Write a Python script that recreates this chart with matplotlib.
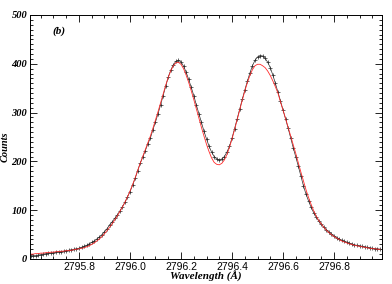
import numpy as np
import matplotlib
matplotlib.use("Agg")
import matplotlib.pyplot as plt
from matplotlib.ticker import MultipleLocator

# Observed profile (counts), sampled every 0.01 A starting at 2795.61 A
wl_start = 2795.61
wl_step = 0.01
observed = [
    6, 7, 7, 8, 9, 10, 11, 12, 12, 13,
    14, 15, 15, 16, 17, 18, 19, 20, 21, 22,
    24, 26, 28, 31, 34, 37, 41, 45, 50, 56,
    62, 70, 76, 83, 90, 98, 107, 116, 127, 138,
    151, 165, 181, 196, 209, 222, 236, 248, 265, 281,
    298, 316, 335, 354, 373, 387, 398, 405, 407, 404,
    395, 383, 368, 352, 335, 316, 298, 280, 262, 246,
    231, 219, 210, 205, 203, 205, 210, 219, 231, 248,
    267, 287, 307, 327, 346, 364, 381, 396, 407, 414,
    417, 416, 411, 403, 392, 377, 360, 342, 324, 305,
    287, 268, 248, 228, 209, 190, 170, 150, 133, 119,
    106, 95, 86, 78, 71, 65, 60, 55, 51, 47,
    44, 41, 38, 36, 34, 32, 31, 29, 28, 27,
    26, 25, 24, 23, 22, 21, 21, 20,
]
# Fitted profile (red)
fitted = [
    10, 10, 11, 11, 12, 12, 13, 13, 14, 14,
    15, 15, 16, 16, 17, 17, 18, 19, 20, 21,
    22, 23, 25, 27, 30, 33, 37, 41, 46, 52,
    58, 65, 72, 80, 88, 97, 106, 116, 127, 139,
    152, 166, 181, 196, 210, 224, 238, 252, 268, 285,
    302, 320, 338, 356, 372, 386, 396, 402, 403, 399,
    390, 377, 362, 345, 327, 308, 289, 270, 252, 235,
    220, 207, 198, 194, 193, 196, 203, 214, 229, 246,
    265, 285, 305, 325, 344, 361, 376, 388, 396, 399,
    399, 396, 392, 385, 376, 365, 353, 340, 322, 305,
    288, 270, 252, 234, 216, 197, 178, 160, 142, 126,
    112, 99, 88, 79, 72, 65, 59, 54, 50, 46,
    43, 40, 37, 35, 33, 31, 30, 28, 27, 26,
    25, 24, 23, 22, 21, 21, 20, 20,
]
wavelength = wl_start + wl_step * np.arange(len(observed))
xticks = [2795.8, 2796.0, 2796.2, 2796.4, 2796.6, 2796.8]
yticks = [0, 100, 200, 300, 400, 500]

fig = plt.figure(figsize=(3.92, 2.84), dpi=100)
ax = fig.add_axes([30/392, 25/284, 352/392, 244/284])

ax.plot(wavelength, observed, color="#2a2a2a", lw=0.5, marker="+", ms=3.5, mew=0.5)
ax.plot(wavelength, fitted, color="#ff2a2a", lw=0.6)

ax.set_xlim(2795.608, 2796.988)
ax.set_ylim(0, 500)
ax.set_xticks(xticks)
ax.set_xticklabels([f"{t:.1f}" for t in xticks], family="Liberation Sans", fontsize=7.5)
ax.set_yticks(yticks)
ax.set_yticklabels([str(t) for t in yticks], family="Liberation Serif",
                   fontweight="bold", fontstyle="italic", fontsize=7.5)
ax.xaxis.set_minor_locator(MultipleLocator(0.05))
ax.yaxis.set_minor_locator(MultipleLocator(10))
ax.tick_params(which="both", direction="in", top=True, right=True, width=0.6)
ax.tick_params(which="major", length=5)
ax.tick_params(axis="x", which="major", pad=2)
ax.tick_params(axis="y", which="major", pad=2)
ax.tick_params(which="minor", length=2.5)
for s in ax.spines.values():
    s.set_linewidth(0.7)

fig.text(206/392, 1.5/284, "Wavelength (\u00c5)", family="Liberation Serif",
         fontweight="bold", fontstyle="italic", fontsize=8, ha="center", va="bottom")
fig.text(0.5/392, 137/284, "Counts", family="Liberation Serif", fontweight="bold",
         fontstyle="italic", fontsize=7.5, rotation=90, ha="left", va="center")
ax.text(0.065, 0.955, "(b)", transform=ax.transAxes, family="Liberation Serif",
        fontweight="bold", fontstyle="italic", fontsize=8, va="top")

fig.savefig("out.png", dpi=100)
